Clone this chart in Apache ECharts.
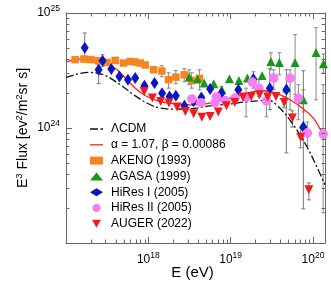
<!DOCTYPE html>
<html><head><meta charset="utf-8">
<script src="https://cdn.jsdelivr.net/npm/echarts@6/dist/echarts.min.js"></script>
<style>html,body{margin:0;padding:0;background:#fff}#c{width:331px;height:295px}</style>
</head><body><div id="c"></div>
<script>
// ---- data (E in eV, E^3 Flux in eV^2 m^-2 sr^-1 s^-1) ----
const akenoE = [1.29e17,1.65e17,2.0e17,2.45e17,3.15e17,3.96e17,5.0e17,6.03e17,6.93e17,7.98e17,9.17e17,1.16e18,1.46e18,1.76e18,2.16e18,2.73e18,3.36e18,4.18e18];
const akenoF = [3.93e24,3.98e24,3.93e24,3.85e24,3.72e24,3.87e24,3.67e24,3.79e24,3.75e24,3.67e24,3.53e24,3.21e24,3.13e24,2.63e24,2.77e24,2.90e24,2.59e24,2.70e24];
const akenoErr = [[1.46e18,2.79e24,3.48e24],[1.76e18,2.22e24,3.02e24],[2.16e18,2.43e24,3.15e24],[2.73e18,2.52e24,3.28e24],[3.36e18,2.22e24,3.02e24],[4.18e18,2.15e24,3.21e24]];

const agasaE = [3.14e18,3.95e18,4.77e18,6.25e18,7.82e18,9.67e18,1.26e19,1.60e19,2.41e19,3.08e19,3.91e19,4.79e19,6.06e19,7.64e19,1.09e20,1.34e20];
const agasaF = [2.77e24,2.67e24,2.46e24,2.43e24,2.15e24,2.68e24,2.59e24,2.72e24,2.86e24,3.79e24,3.72e24,2.24e24,3.72e24,1.76e24,4.54e24,3.62e24];
const agasaErr = [[3.14e18,2.38e24,3.21e24],[3.08e19,3.21e24,4.51e24],[3.91e19,2.90e24,4.51e24],[6.06e19,1.95e24,6.48e24],[7.64e19,1.38e24,2.15e24],[1.09e20,1.76e24,7.45e24],[1.34e20,3.0e24,4.4e24]];

const hires1E = [1.69e17,2.49e17,2.78e17,3.55e17,4.46e17,5.65e17,6.93e17,8.97e17,1.19e18,1.47e18,1.81e18,2.16e18,2.75e18,3.54e18,4.41e18,5.64e18,7.71e18,1.24e19,1.89e19,2.99e19,4.75e19,7.64e19];
const hires1F = [4.99e24,3.21e24,3.85e24,3.26e24,2.81e24,2.63e24,2.72e24,2.33e24,2.46e24,2.01e24,1.88e24,1.91e24,1.56e24,1.71e24,1.84e24,2.18e24,2.01e24,2.15e24,2.67e24,2.22e24,2.15e24,1.02e24];
const hires1Err = [[1.69e17,3.77e24,6.70e24],[2.49e17,2.43e24,3.55e24],[2.78e17,3.41e24,4.34e24],[7.71e18,1.76e24,2.28e24],[1.24e19,1.87e24,2.47e24],[1.89e19,2.22e24,3.08e24],[2.99e19,1.45e24,3.3e24],[4.75e19,6.08e23,3.21e24],[7.64e19,1.98e23,3.15e24]];

const hires2E = [3.38e18,4.36e18,6.48e18,6.73e18,8.58e18,1.13e19,1.54e19,1.83e19,2.20e19,2.72e19,3.34e19,5.27e19,6.65e19,8.55e19,1.33e20];
const hires2F = [1.79e24,1.66e24,1.66e24,1.87e24,1.73e24,1.82e24,1.85e24,2.51e24,2.22e24,1.72e24,2.72e24,2.72e24,1.81e24,9.03e23,8.85e23];
const hires2Err = [[1.54e19,1.25e24,2.22e24],[2.20e19,1.87e24,2.63e24],[2.72e19,1.25e24,2.07e24],[3.34e19,2.15e24,3.21e24],[5.27e19,1.44e24,3.21e24],[6.65e19,1.18e24,2.38e24],[8.55e19,7.0e23,1.13e24],[1.33e20,1.83e23,2.38e24]];

const augerE = [8.91e17,1.12e18,1.41e18,1.78e18,2.24e18,2.82e18,3.55e18,4.47e18,5.62e18,7.08e18,8.91e18,1.12e19,1.41e19,1.78e19,2.24e19,2.82e19,3.55e19,4.47e19,5.62e19,7.08e19,8.91e19];
const augerF = [2.08e24,1.82e24,1.70e24,1.65e24,1.52e24,1.39e24,1.33e24,1.24e24,1.26e24,1.38e24,1.56e24,1.67e24,1.86e24,1.88e24,1.95e24,1.86e24,1.88e24,1.67e24,1.22e24,8.33e23,2.90e23];
const augerErr = [[4.47e19,1.50e24,1.87e24],[5.62e19,1.02e24,1.41e24],[7.08e19,6.73e23,1.0e24],[8.91e19,2.37e23,3.33e23]];

const lcdmE = [1e17,1.88e17,2.86e17,4.56e17,6.61e17,9.62e17,1.39e18,2.02e18,3.24e18,5.62e18,1e19,1.51e19,2.29e19,2.75e19,3.8e19,5.75e19,8.41e19,1.11e20,1.40e20];
const lcdmF = [2.75e24,3.04e24,2.90e24,2.38e24,1.95e24,1.65e24,1.49e24,1.46e24,1.47e24,1.56e24,1.62e24,1.69e24,1.73e24,1.76e24,1.53e24,1.07e24,6.9e23,4.62e23,3.21e23];

const fitE = [1e17,1.49e17,2.16e17,3.15e17,4.16e17,5.5e17,7.28e17,9.62e17,1.39e18,2.02e18,3.22e18,5.19e18,9.87e18,1.88e19,2.62e19,3.67e19,5.27e19,6.97e19,1.0e20,1.28e20,1.40e20];
const fitF = [3.75e24,3.98e24,4.03e24,3.67e24,3.21e24,2.63e24,2.15e24,1.88e24,1.70e24,1.63e24,1.59e24,1.63e24,1.83e24,2.07e24,2.11e24,1.99e24,1.76e24,1.54e24,1.23e24,9.33e23,8.73e23];

const xMinorTicks = [2e17,3e17,4e17,5e17,6e17,7e17,8e17,9e17,2e18,3e18,4e18,5e18,6e18,7e18,8e18,9e18,2e19,3e19,4e19,5e19,6e19,7e19,8e19,9e19];
const yMinorTicks = [2e23,3e23,4e23,5e23,6e23,7e23,8e23,9e23,2e24,3e24,4e24,5e24,6e24,7e24,8e24,9e24];
const names = ['\u039BCDM','\u03B1 = 1.07, \u03B2 = 0.00086','AKENO (1993)','AGASA (1999)','HiRes I (2005)','HiRes II (2005)','AUGER (2022)'];

const X_MIN = 1e17, X_MAX = 1.4e20, Y_MIN = 1e23, Y_MAX = 1e25;
const FONT = 'Liberation Sans, Arial, Helvetica, sans-serif';
const FRAME = '#666';
const zip = (a, b) => a.map((v, i) => [v, b[i]]);

function errSeries(data, color) {
  return {
    type: 'custom', silent: true, z: 1, encode: {x: 0, y: [1, 2]}, data: data,
    renderItem(params, api) {
      const p1 = api.coord([api.value(0), api.value(1)]);
      const p2 = api.coord([api.value(0), api.value(2)]);
      const w = 2, st = {stroke: color, lineWidth: 1};
      return {type: 'group', children: [
        {type: 'line', shape: {x1: p1[0], y1: p1[1], x2: p2[0], y2: p2[1]}, style: st},
        {type: 'line', shape: {x1: p1[0]-w, y1: p1[1], x2: p1[0]+w, y2: p1[1]}, style: st},
        {type: 'line', shape: {x1: p2[0]-w, y1: p2[1], x2: p2[0]+w, y2: p2[1]}, style: st}
      ]};
    }
  };
}
function tickSeries(data, isX) {
  return {
    type: 'custom', silent: true, z: 5, clip: false, encode: {x: 0, y: 1},
    data: isX ? data.map(v => [v, Y_MIN]) : data.map(v => [X_MIN, v]),
    renderItem(params, api) {
      const cs = params.coordSys;
      const p = api.coord([api.value(0), api.value(1)]);
      const L = 3.5, st = {stroke: FRAME, lineWidth: 1};
      if (isX) {
        const x = Math.round(p[0]) + 0.5, b = cs.y + cs.height, t = cs.y;
        return {type: 'group', children: [
          {type: 'line', shape: {x1: x, y1: b, x2: x, y2: b - L}, style: st},
          {type: 'line', shape: {x1: x, y1: t, x2: x, y2: t + L}, style: st}]};
      } else {
        const y = Math.round(p[1]) + 0.5, l = cs.x, r = cs.x + cs.width;
        return {type: 'group', children: [
          {type: 'line', shape: {x1: l, y1: y, x2: l + L, y2: y}, style: st},
          {type: 'line', shape: {x1: r, y1: y, x2: r - L, y2: y}, style: st}]};
      }
    }
  };
}
const supRich = {
  b: {fontSize: 12, fontFamily: FONT, color: '#000'},
  s: {fontSize: 8.5, fontFamily: FONT, color: '#000', padding: [0, 0, 9, 0]}
};
const expLabel = (hide) => (v) => {
  const e = Math.round(Math.log10(v));
  return e === hide ? '' : '{b|10}{s|' + e + '}';
};
function axisCommon(extra) {
  return Object.assign({
    type: 'log', logBase: 10,
    axisLine: {show: true, onZero: false, lineStyle: {color: FRAME, width: 1}},
    axisTick: {show: true, inside: true, length: 6, lineStyle: {color: FRAME}},
    splitLine: {show: false}, minorTick: {show: false}
  }, extra);
}

const chart = echarts.init(document.getElementById('c'), null, {renderer: 'canvas'});
chart.setOption({
  animation: false,
  backgroundColor: '#fff',
  grid: {left: 66, right: 6, top: 13, bottom: 52, containLabel: false},
  legend: {
    orient: 'vertical', left: 85, top: 118, itemWidth: 13, itemHeight: 8, itemGap: 3.8,
    textStyle: {fontSize: 12, fontFamily: FONT, color: '#000', padding: [0, 0, 0, 3]},
    data: [
      {name: names[0], icon: 'path://M0,0h8v1.3h-8z M10.5,0h2.5v1.3h-2.5z'},
      {name: names[1], icon: 'path://M0,0h13v1.3h-13z'},
      names[2], names[3], names[4], names[5],
      {name: names[6], icon: 'path://M0,0L10,0L5,9Z'}
    ]
  },
  xAxis: [
    axisCommon({position: 'bottom', min: X_MIN, max: X_MAX,
      axisLabel: {margin: 8, formatter: expLabel(17), rich: supRich},
      name: 'E (eV)', nameLocation: 'middle', nameGap: 22, nameMoveOverlap: false,
      nameTextStyle: {fontSize: 15, fontFamily: FONT, color: '#000', padding: [0, 6, 0, 0]}}),
    axisCommon({position: 'top', min: X_MIN, max: X_MAX, axisLabel: {show: false}})
  ],
  yAxis: [
    axisCommon({position: 'left', min: Y_MIN, max: Y_MAX,
      axisLabel: {margin: 6, formatter: expLabel(23), rich: supRich},
      name: '{t|E}{s|3}{t| Flux [ev}{s|2}{t|/m}{s|2}{t|sr s]}', nameLocation: 'middle', nameGap: 33, nameRotate: 90,
      nameMoveOverlap: false,
      nameTextStyle: {rich: {
        t: {fontSize: 14, fontFamily: FONT, color: '#000'},
        s: {fontSize: 9.5, fontFamily: FONT, color: '#000', padding: [0, 0, 9, 0]}}}}),
    axisCommon({position: 'right', min: Y_MIN, max: Y_MAX, axisLabel: {show: false}})
  ],
  series: [
    errSeries(akenoErr, '#888'), errSeries(agasaErr, '#888'), errSeries(hires1Err, '#777'),
    errSeries(hires2Err, '#888'), errSeries(augerErr, '#777'),
    tickSeries(xMinorTicks, true), tickSeries(yMinorTicks, false),
    {name: names[0], type: 'line', z: 2, data: zip(lcdmE, lcdmF), symbol: 'none', smooth: 0.4,
      lineStyle: {color: '#111', width: 1.3, type: [8, 2.5, 2, 2.5]}, itemStyle: {color: '#111'}},
    {name: names[1], type: 'line', z: 2, data: zip(fitE, fitF), symbol: 'none', smooth: 0.4,
      lineStyle: {color: '#ff2020', width: 1.3}, itemStyle: {color: '#ff2020'}},
    {name: names[2], type: 'scatter', z: 3, data: zip(akenoE, akenoF), symbol: 'rect', symbolSize: 7.5,
      itemStyle: {color: '#f7841e', opacity: 1}},
    {name: names[3], type: 'scatter', z: 3, data: zip(agasaE, agasaF), symbol: 'triangle', symbolSize: 9,
      itemStyle: {color: '#1a961a', opacity: 1}},
    {name: names[4], type: 'scatter', z: 3, data: zip(hires1E, hires1F), symbol: 'diamond', symbolSize: [8, 12],
      itemStyle: {color: '#0a16c4', opacity: 1}},
    {name: names[5], type: 'scatter', z: 3, data: zip(hires2E, hires2F), symbol: 'circle', symbolSize: 9.5,
      itemStyle: {color: '#f47ef4', opacity: 1}},
    {name: names[6], type: 'scatter', z: 3, data: zip(augerE, augerF), symbol: 'triangle', symbolRotate: 180, symbolSize: 9,
      itemStyle: {color: '#f51a1a', opacity: 1}}
  ]
});
</script></body></html>
